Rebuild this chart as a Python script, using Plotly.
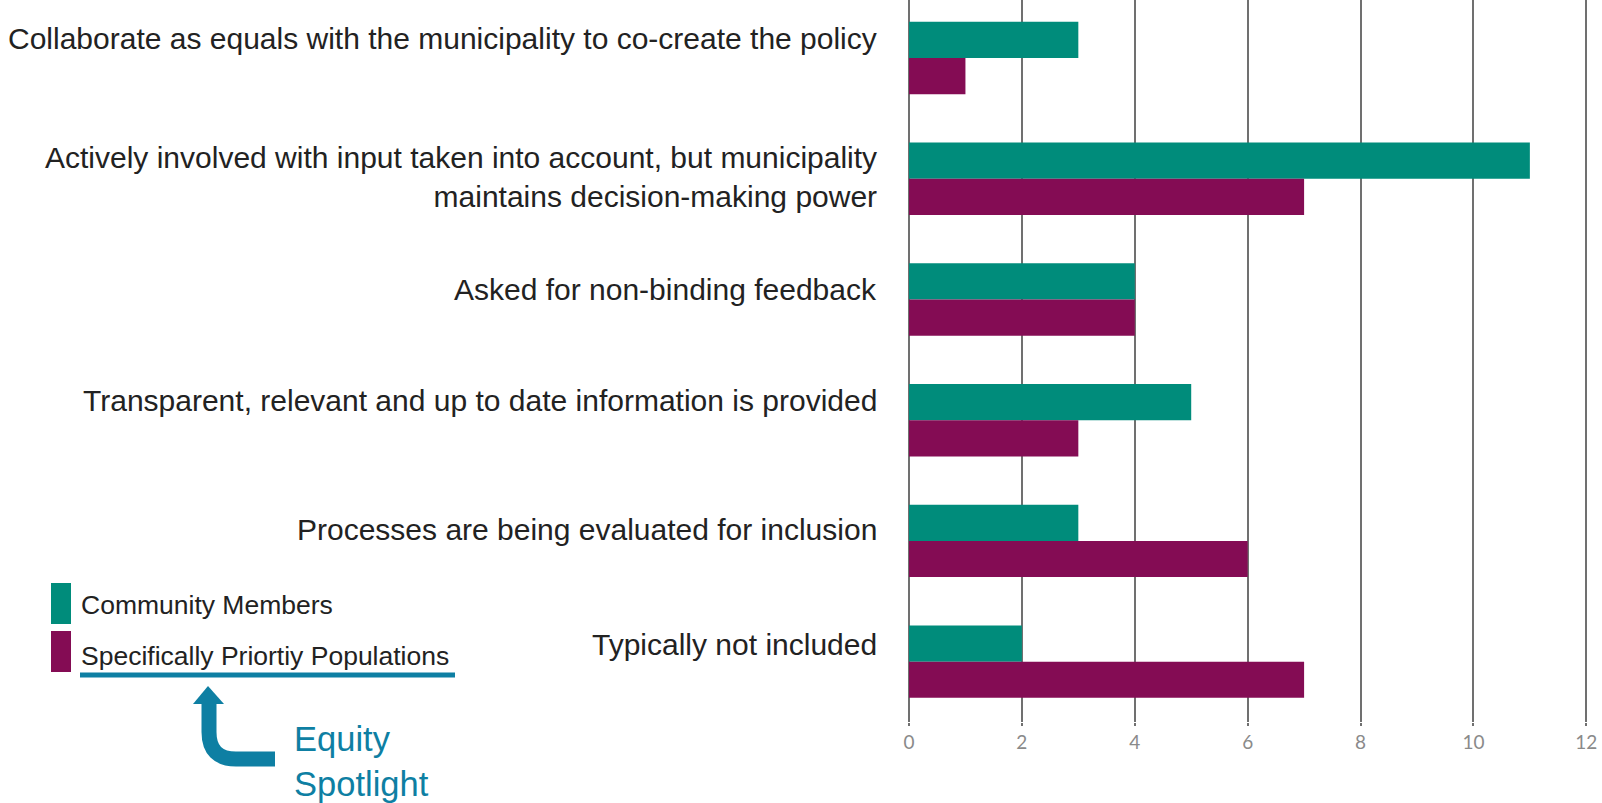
import plotly.graph_objects as go

categories = [
    "Collaborate as equals with the municipality to co-create the policy",
    "Actively involved with input taken into account, but municipality<br>maintains decision-making power",
    "Asked for non-binding feedback",
    "Transparent, relevant and up to date information is provided",
    "Processes are being evaluated for inclusion",
    "Typically not included",
]
community_members = [3, 11, 4, 5, 3, 2]
priority_populations = [1, 7, 4, 3, 6, 7]
series_names = ["Community Members", "Specifically Priortiy Populations"]
x_ticks = [0, 2, 4, 6, 8, 10, 12]

TEAL = "#008C7B"
PURPLE = "#840C54"
BLUE = "#0E7FA3"
FONT = "Liberation Sans, Arial, sans-serif"

W, H = 1602, 803
ML, MR, MT, MB = 909, 14, 0, 81
PW, PH = W - ML - MR, H - MT - MB


def px(x):
    return (x - ML) / PW


def py(y):
    return 1 - (y - MT) / PH


fig = go.Figure()
fig.add_trace(go.Bar(y=categories, x=community_members, orientation="h",
                     name=series_names[0], marker=dict(color=TEAL, line=dict(width=0))))
fig.add_trace(go.Bar(y=categories, x=priority_populations, orientation="h",
                     name=series_names[1], marker=dict(color=PURPLE, line=dict(width=0))))

# category labels as annotations (right aligned, left of the axis)
label_shift = [19, 2, 10, 20, 11, 17]
for cat, s in zip(categories, label_shift):
    fig.add_annotation(x=0, xref="paper", y=cat, yref="y", text=cat,
                       xanchor="right", yanchor="middle", align="right",
                       xshift=-30, yshift=s, showarrow=False,
                       font=dict(family=FONT, size=30, color="#222222"))

shapes = []
# legend swatches
shapes.append(dict(type="rect", xref="paper", yref="paper", x0=px(51), x1=px(71),
                   y0=py(583), y1=py(624), fillcolor=TEAL, line=dict(width=0)))
shapes.append(dict(type="rect", xref="paper", yref="paper", x0=px(51), x1=px(71),
                   y0=py(631), y1=py(672), fillcolor=PURPLE, line=dict(width=0)))
# underline
shapes.append(dict(type="line", xref="paper", yref="paper", x0=px(80), x1=px(455),
                   y0=py(675), y1=py(675), line=dict(color=BLUE, width=5)))
# arrow shaft
path = "M {},{} L {},{} Q {},{} {},{} L {},{}".format(
    px(275), py(759), px(236), py(759), px(209), py(759), px(209), py(732),
    px(209), py(700))
shapes.append(dict(type="path", xref="paper", yref="paper", path=path,
                   line=dict(color=BLUE, width=15), fillcolor="rgba(0,0,0,0)"))
# arrow head
head = "M {},{} L {},{} L {},{} Z".format(px(208), py(686), px(193), py(704), px(224), py(704))
shapes.append(dict(type="path", xref="paper", yref="paper", path=head,
                   line=dict(color=BLUE, width=0), fillcolor=BLUE))

fig.add_annotation(x=px(79), y=py(605), xref="paper", yref="paper", text=series_names[0],
                   xanchor="left", yanchor="middle", showarrow=False,
                   font=dict(family=FONT, size=26.5, color="#222222"))
fig.add_annotation(x=px(79), y=py(656), xref="paper", yref="paper", text=series_names[1],
                   xanchor="left", yanchor="middle", showarrow=False,
                   font=dict(family=FONT, size=26.5, color="#222222"))
fig.add_annotation(x=px(292), y=py(761), xref="paper", yref="paper",
                   text="Equity<br>Spotlight", xanchor="left", yanchor="middle",
                   align="left", showarrow=False,
                   font=dict(family=FONT, size=34.5, color=BLUE))

fig.update_layout(
    width=W, height=H,
    margin=dict(l=ML, r=MR, t=MT, b=MB),
    barmode="group", bargap=0.4, bargroupgap=0,
    showlegend=False,
    plot_bgcolor="white", paper_bgcolor="white",
    shapes=shapes,
    xaxis=dict(range=[0, 12.03], tickvals=x_ticks, showgrid=True, gridcolor="#707070",
               gridwidth=1.5, zeroline=True, zerolinecolor="#707070", zerolinewidth=1.5,
               ticks="outside", ticklen=3, tickcolor="#707070", tickwidth=1.5,
               tickfont=dict(family="Lato", size=19, color="#8a8a8a"), showline=False),
    yaxis=dict(range=[5.5, -0.48], showticklabels=False, showgrid=False,
               zeroline=False, showline=False),
)

fig.write_html("out.html", config={"displayModeBar": False},
               post_script="document.body.style.margin='0';document.body.style.overflow='hidden';")
